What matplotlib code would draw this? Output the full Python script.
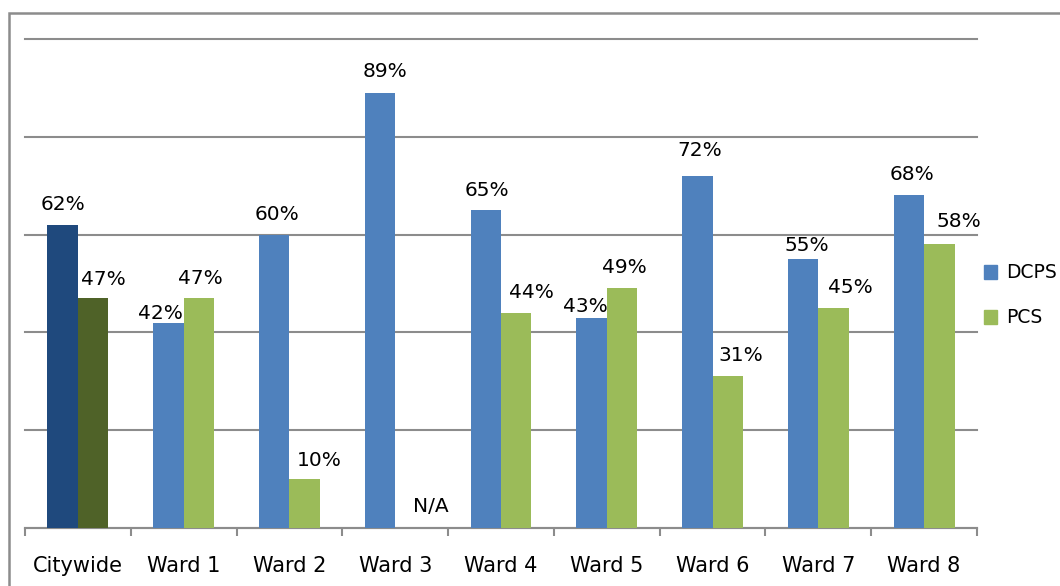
import numpy as np
import matplotlib.pyplot as plt
from matplotlib.patches import Rectangle

categories = ["Citywide", "Ward 1", "Ward 2", "Ward 3", "Ward 4",
              "Ward 5", "Ward 6", "Ward 7", "Ward 8"]
dcps = [62, 42, 60, 89, 65, 43, 72, 55, 68]
pcs = [47, 47, 10, None, 44, 49, 31, 45, 58]

# label nudges in pixels (x right, y above bar top), as laid out in the original
dcps_dx = [0, -8, 3, 5, 1.5, -6, 2.5, 3.5, 3.5]
dcps_dy = [15, 4, 15, 16, 14, 6, 20, 8, 15]
pcs_dx = [10, 1, 15, 20, 15.5, 2.5, 13.5, 17, 20]
pcs_dy = [13, 14, 13, 16, 15, 15, 15, 15, 17]

blue, green = "#4F81BD", "#9BBB59"
dark_blue, dark_green = "#1F497D", "#4F6228"
grey = "#8c8c8c"

fig = plt.figure(figsize=(10.6, 5.86), dpi=100)
ax = fig.add_axes([25 / 1060, 1 - 528 / 586, 952 / 1060, 489 / 586])

x = np.arange(len(categories))
w = 0.288

dcps_colors = [dark_blue] + [blue] * (len(categories) - 1)
pcs_colors = [dark_green] + [green] * (len(categories) - 1)
pcs_vals = [v if v is not None else 0 for v in pcs]

ax.bar(x - w / 2, dcps, w, color=dcps_colors, zorder=3)
ax.bar(x + w / 2, pcs_vals, w, color=pcs_colors, zorder=3)

px = 0.72  # points per pixel at 100 dpi
for i in range(len(categories)):
    ax.annotate(f"{dcps[i]}%", (x[i] - w / 2, dcps[i]),
                xytext=(dcps_dx[i] * px, dcps_dy[i] * px), textcoords="offset points",
                ha="center", va="baseline", fontsize=14.5)
    label = "N/A" if pcs[i] is None else f"{pcs[i]}%"
    ax.annotate(label, (x[i] + w / 2, pcs_vals[i]),
                xytext=(pcs_dx[i] * px, pcs_dy[i] * px), textcoords="offset points",
                ha="center", va="baseline", fontsize=14.5)

ax.set_xlim(-0.5, len(categories) - 0.5)
ax.set_ylim(0, 100)
ax.set_yticks([0, 20, 40, 60, 80, 100])
ax.yaxis.grid(True, color=grey, linewidth=1.5, zorder=0)
for gl in ax.get_ygridlines():
    gl.set_clip_on(False)
ax.tick_params(axis="y", left=False, labelleft=False)

ax.set_xticks(x)
ax.set_xticklabels(categories, fontsize=15)
ax.tick_params(axis="x", length=0, pad=20)
ax.set_xticks(np.arange(len(categories) + 1) - 0.5, minor=True)
ax.tick_params(axis="x", which="minor", length=6, width=1.5, color=grey, direction="out")

for s in ["top", "right", "left"]:
    ax.spines[s].set_visible(False)
ax.spines["bottom"].set_color(grey)
ax.spines["bottom"].set_linewidth(1.5)

# legend drawn by hand, squeezed against the right edge like the original
fig.patches.append(Rectangle((984 / 1060, 1 - 279 / 586), 13 / 1060, 14 / 586,
                             transform=fig.transFigure, color=blue))
fig.patches.append(Rectangle((984 / 1060, 1 - 324 / 586), 13 / 1060, 14 / 586,
                             transform=fig.transFigure, color=green))
fig.text(1006 / 1060, 1 - 272 / 586, "DCPS", va="center", fontsize=13.5)
fig.text(1006 / 1060, 1 - 317 / 586, "PCS", va="center", fontsize=13.5)

# outer frame
fig.patches.append(Rectangle((9 / 1060, -0.1), 1.2, 1.1 - 13 / 586, transform=fig.transFigure,
                             fill=False, edgecolor=grey, linewidth=1.8))

fig.savefig("out.png", dpi=100)
